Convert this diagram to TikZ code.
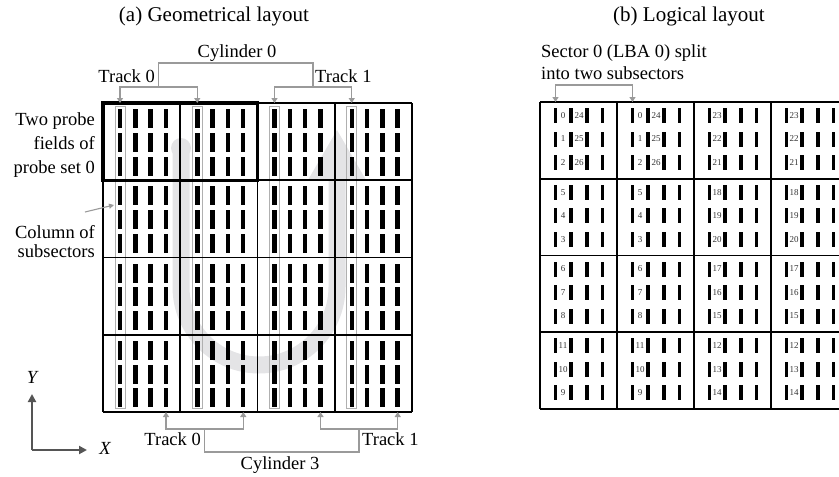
\documentclass[tikz,border=0pt]{standalone}
\usepackage{fontspec}
\setmainfont{Liberation Serif}
\usetikzlibrary{arrows.meta}
\definecolor{brk}{HTML}{9A9A9A}
\definecolor{colg}{HTML}{B0B0B0}
\definecolor{ugray}{HTML}{E4E4E6}
\definecolor{axg}{HTML}{555555}
\definecolor{numc}{HTML}{333333}
\begin{document}
\begin{tikzpicture}[x=1pt,y=-1pt,
  body/.style={font=\fontsize{18.5}{22}\selectfont, inner sep=0pt},
  ttl/.style={font=\fontsize{21}{24}\selectfont, inner sep=0pt},
  num/.style={font=\fontsize{9}{9}\selectfont, inner sep=0pt, text=numc},
  bracket/.style={draw=brk, line width=1.4pt},
  tipped/.style={bracket, {Triangle[width=6pt,length=5pt]}-{Triangle[width=6pt,length=5pt]}},
  gridline/.style={line width=1.8pt},
  axis/.style={draw=axg, line width=2pt, -{Triangle[width=8pt,length=8pt]}}
]
\useasboundingbox (0,0) rectangle (839,477);
\clip (0,0) rectangle (839,477);

% ---------- (a) geometrical layout ----------
% big light U arrow in background
\fill[ugray] (181,148) circle[radius=10pt];
\draw[ugray, line width=17pt] (181,148) -- (181,287)
  .. controls (181,330) and (216,365) .. (259,365)
  .. controls (302,365) and (337,330) .. (337,287) -- (337,180);
\fill[ugray] (308,180) -- (337,130) -- (366,180) -- cycle;

% bars
\foreach \c in {0,...,3}{
  \foreach \r in {0,...,3}{
    \foreach \i in {0,...,3}{
      \foreach \j in {0,1,2}{
        \pgfmathsetmacro{\bx}{103+77.25*\c+17+15.33*\i}
        \pgfmathsetmacro{\by}{103+77.25*\r+15.5+23.75*\j}
        \fill[black] (\bx-2.25,\by-9.5) rectangle (\bx+2.25,\by+9.5);
      }
    }
  }
}
% columns of subsectors
\foreach \c in {0,...,3}{
  \pgfmathsetmacro{\bx}{103+77.25*\c+17}
  \draw[colg, line width=1pt] (\bx-5,106) rectangle (\bx+5,408);
}
% grid
\foreach \k in {0,...,4}{
  \draw[gridline] (103+77.25*\k,103) -- (103+77.25*\k,412);
  \draw[gridline] (103,103+77.25*\k) -- (412,103+77.25*\k);
}
\draw[line width=3.4pt] (103,103) rectangle (257.5,180.25);

% top brackets
\coordinate (TA1) at (120,103);
\coordinate (TA2) at (197.25,103);
\coordinate (TB1) at (274.5,103);
\coordinate (TB2) at (351.75,103);
\coordinate (TAm) at (158.6,87);
\coordinate (TBm) at (313.1,87);
\draw[tipped] (TA1) -- ++(0,-16) -| (TA2);
\draw[tipped] (TB1) -- ++(0,-16) -| (TB2);
\draw[bracket] (TAm) -- ++(0,-24) -| (TBm);
\node[body, anchor=base] (cyl0) at (237,57) {Cylinder 0};
\node[body, anchor=base east] (tr0t) at (155,82) {Track 0};
\node[body, anchor=base west] (tr1t) at (315,82) {Track 1};

% bottom brackets
\coordinate (BA1) at (166,412);
\coordinate (BA2) at (243.25,412);
\coordinate (BB1) at (320.5,412);
\coordinate (BB2) at (397.75,412);
\coordinate (BAm) at (204.6,429);
\coordinate (BBm) at (359.1,429);
\draw[tipped] (BA1) -- ++(0,17) -| (BA2);
\draw[tipped] (BB1) -- ++(0,17) -| (BB2);
\draw[bracket] (BAm) -- ++(0,23) -| (BBm);
\node[body, anchor=base east] (tr0b) at (201,445) {Track 0};
\node[body, anchor=base west] (tr1b) at (362,445) {Track 1};
\node[body, anchor=base] (cyl3) at (280,469) {Cylinder 3};

% left labels
\node[body, anchor=base east] (lab1) at (95,125) {Two probe};
\node[body, anchor=base east] (lab2) at (95,149) {fields of};
\node[body, anchor=base east] (lab3) at (95,173) {probe set 0};
\node[body, anchor=base east] (lab4) at (95,238) {Column of};
\node[body, anchor=base east] (lab5) at (95,257) {subsectors};
\coordinate (colA) at (85,212);
\coordinate (colB) at (114,205);
\draw[bracket, line width=1.1pt, -{Triangle[width=5pt,length=5pt]}] (colA) -- (colB);

% axes
\coordinate (O) at (32,450);
\coordinate (Yend) at (32,394);
\coordinate (Xend) at (87,450);
\draw[axis] (O) -- (Yend);
\draw[axis] (O) -- (Xend);
\node[body, font=\fontsize{18.5}{22}\selectfont\itshape] (ylab) at (32,377) {Y};
\node[body, font=\fontsize{18.5}{22}\selectfont\itshape] (xlab) at (105,448) {X};

\node[ttl] (ta) at (214,16) {(a) Geometrical layout};

% ---------- (b) logical layout ----------
\node[ttl] (tb) at (689,16) {(b) Logical layout};
\node[body, anchor=base west] (s1) at (541,57) {Sector 0 (LBA 0) split};
\node[body, anchor=base west] (s2) at (541,79) {into two subsectors};

\foreach \c in {0,...,3}{
  \foreach \r in {0,...,3}{
    \foreach \i in {0,...,3}{
      \foreach \j in {0,1,2}{
        \pgfmathsetmacro{\bx}{540+77*\c+15.5+15.67*\i}
        \pgfmathsetmacro{\by}{102+76.75*\r+13.5+23.5*\j}
        \fill[black] (\bx-1.75,\by-7.5) rectangle (\bx+1.75,\by+7.5);
      }
    }
  }
}
\foreach \k in {0,...,4}{
  \draw[gridline] (540+77*\k,102) -- (540+77*\k,409);
  \draw[gridline] (540,102+76.75*\k) -- (848,102+76.75*\k);
}
% numbers
\foreach \c in {0,1}{
  \foreach \r/\na/\nb/\nc in {0/0/1/2, 1/5/4/3, 2/6/7/8, 3/11/10/9}{
    \pgfmathsetmacro{\nx}{540+77*\c+23}
    \pgfmathsetmacro{\ny}{102+76.75*\r+13.5}
    \node[num] at (\nx,\ny) {\na};
    \node[num] at (\nx,\ny+23.5) {\nb};
    \node[num] at (\nx,\ny+47) {\nc};
  }
  \pgfmathsetmacro{\mx}{540+77*\c+39}
  \node[num] at (\mx,115.5) {24};
  \node[num] at (\mx,139) {25};
  \node[num] at (\mx,162.5) {26};
}
\foreach \c in {2,3}{
  \foreach \r/\na/\nb/\nc in {0/23/22/21, 1/18/19/20, 2/17/16/15, 3/12/13/14}{
    \pgfmathsetmacro{\nx}{540+77*\c+23}
    \pgfmathsetmacro{\ny}{102+76.75*\r+13.5}
    \node[num] at (\nx,\ny) {\na};
    \node[num] at (\nx,\ny+23.5) {\nb};
    \node[num] at (\nx,\ny+47) {\nc};
  }
}
\coordinate (RA1) at (555.5,102);
\coordinate (RA2) at (632.5,102);
\draw[tipped] (RA1) -- ++(0,-17) -| (RA2);
\end{tikzpicture}
\end{document}
